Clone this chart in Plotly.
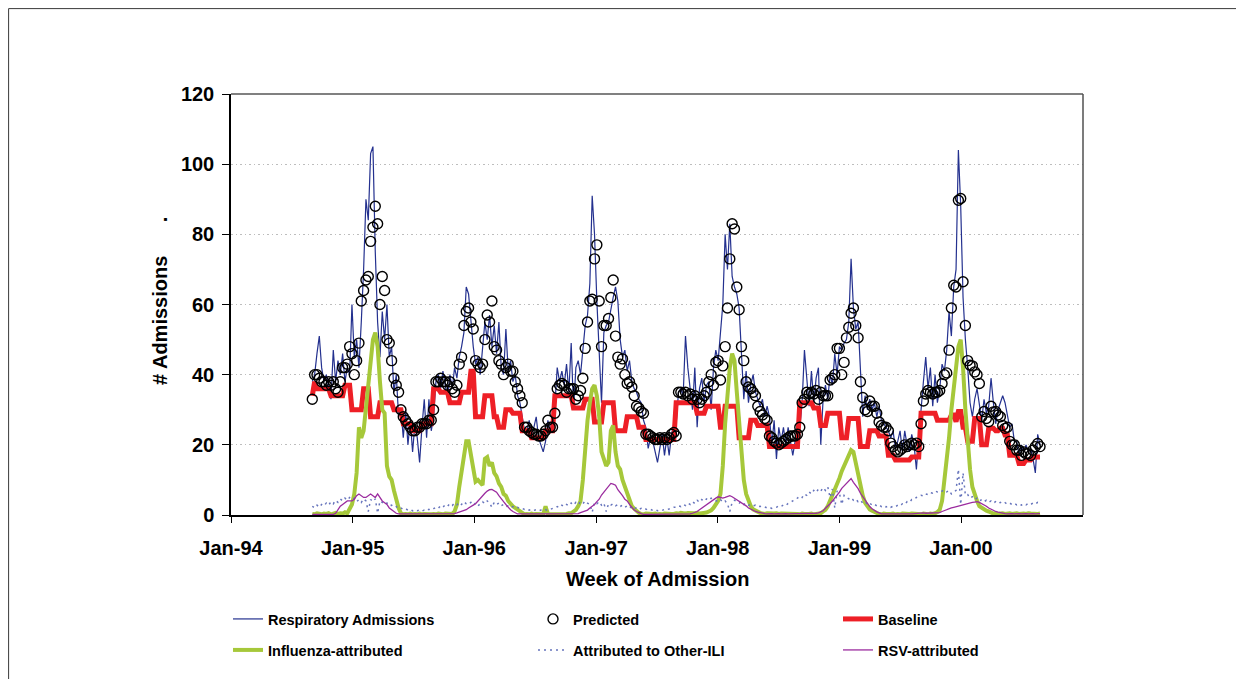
import pandas as pd
import plotly.graph_objects as go

# Weekly series, first week starting 1994-09-02 (two rows of values per season, Sep-Aug)
resp = [
    38, 40, 46, 51, 42, 38, 40, 36, 33, 47, 38, 44, 40, 46, 38, 42, 40, 60, 45, 50, 42, 55, 70, 90, 84, 103,
    105, 75, 55, 45, 58, 50, 60, 45, 48, 35, 40, 28, 30, 22, 30, 20, 27, 18, 26, 22, 15, 25, 33, 22, 33, 24,
    28, 38, 40, 36, 41, 37, 33, 40, 36, 42, 39, 45, 48, 52, 65, 63, 55, 48, 43, 45, 40, 48, 55, 50, 57, 48,
    54, 46, 55, 42, 40, 53, 41, 44, 38, 40, 34, 32, 28, 24, 24, 27, 23, 25, 28, 22, 20, 18, 21, 27, 24, 28,
    31, 42, 38, 41, 37, 43, 35, 49, 30, 42, 44, 40, 47, 54, 57, 66, 91, 80, 61, 47, 32, 52, 54, 55, 59, 62,
    65, 61, 50, 45, 47, 41, 44, 38, 36, 35, 33, 32, 27, 25, 19, 22, 21, 18, 15, 19, 23, 17, 22, 17, 23, 26,
    26, 35, 36, 34, 51, 42, 36, 30, 42, 25, 36, 39, 32, 37, 38, 30, 42, 47, 44, 52, 60, 80, 70, 83, 68, 65,
    63, 59, 45, 33, 41, 32, 37, 40, 35, 33, 31, 33, 28, 31, 28, 20, 27, 16, 25, 21, 25, 20, 25, 21, 17, 21,
    25, 25, 32, 47, 40, 31, 41, 32, 39, 42, 20, 33, 37, 33, 40, 37, 46, 40, 48, 47, 49, 50, 55, 73, 59, 53,
    55, 40, 28, 34, 30, 33, 30, 32, 28, 31, 27, 26, 25, 24, 22, 24, 19, 21, 24, 18, 24, 20, 18, 23, 20, 13,
    22, 31, 38, 45, 36, 42, 31, 40, 32, 36, 43, 41, 47, 58, 51, 65, 70, 104, 88, 62, 50, 42, 32, 28, 33, 36,
    32, 27, 33, 29, 31, 39, 32, 26, 30, 32, 34, 32, 28, 25, 26, 21, 21, 17, 20, 18, 20, 18, 19, 16, 12, 23, 20,
]

predicted = [
    33, 40, 40, 39, 38, 38, 37, 38, 37, 38, 36, 35, 38, 42, 42, 43, 48, 46, 40, 44, 49, 61, 64, 67, 68, 78,
    82, 88, 83, 60, 68, 64, 50, 49, 44, 39, 37, 35, 30, 28, 27, 26, 25, 24, 24, 25, 25, 26, 26, 26, 27, 27,
    30, 38, 38, 39, 38, 38, 37, 38, 36, 35, 37, 43, 45, 54, 58, 59, 55, 53, 44, 43, 42, 43, 50, 57, 55, 61,
    48, 47, 44, 43, 40, 42, 43, 41, 41, 38, 36, 34, 32, 25, 25, 24, 23.5, 23, 23, 22.5, 22.5, 23, 24, 27, 25, 25,
    29, 36, 37, 37.5, 37, 35, 36, 36, 36, 33, 34, 35.5, 39, 47.5, 55, 61, 61.5, 73, 77, 61, 48, 54, 54, 56, 62, 67,
    51, 45, 43, 44.5, 40, 37.5, 38, 36.5, 34, 31, 30.5, 29.5, 29, 23, 23, 22.5, 22, 21.5, 21.5, 22, 21.5, 22, 21.5, 22, 23, 23.5,
    22.5, 35, 35, 34.5, 35, 34, 34.5, 33, 34, 33, 32, 33, 34, 35, 38, 40, 37, 43.5, 44, 38.5, 42.5, 48, 59, 73, 83, 81.5,
    65, 58.5, 48, 44, 38, 36.5, 36, 35, 34, 31, 29.5, 28.5, 27.5, 27, 22.5, 22, 21, 20.5, 20, 20.5, 21, 21.5, 22, 22.5, 22.5, 22.5,
    23, 25, 32, 33, 35, 34.5, 35, 34.5, 35.5, 33, 35, 34, 34, 34, 38.5, 39, 40, 47.5, 47.5, 40, 43.5, 50.5, 53.5, 57.5, 59, 54,
    50.5, 38, 33.5, 30, 29.5, 32.5, 31, 31, 29, 26.5, 25.5, 25, 25, 24, 20.5, 19.5, 18.5, 18, 18.5, 19, 20, 19.5, 20, 20.5, 20, 20.5,
    19.5, 26, 32.5, 34.5, 35.5, 35, 34.5, 35, 35, 35.5, 37.5, 40, 40.5, 47, 59, 65.5, 65, 89.7, 90.2, 66.5, 54, 44, 42.7, 42.5, 40.8, 40,
    37.5, 28, 29.5, 27.5, 26.6, 31, 29.4, 29.5, 28.5, 28, 25.5, 24.7, 25, 21, 20, 20, 18.5, 18.5, 17, 18, 17.5, 17.5, 17, 18.5, 19.5, 20.4, 19.5,
]

baseline = [
    34, 38, 36, 36, 36, 36, 36, 36, 34, 34, 34, 34, 34, 34, 37, 37, 37, 30, 30, 30, 30, 30, 36, 36, 36, 28,
    28, 28, 28, 32, 32, 32, 32, 32, 32, 30, 30, 30, 30, 26, 26, 26, 26, 24, 24, 24, 24, 26, 26, 26, 26, 26,
    36, 36, 36, 35, 35, 35, 35, 32, 32, 32, 32, 32, 35, 35, 35, 35, 41, 41, 28, 28, 28, 28, 34, 34, 34, 34,
    28, 28, 25, 25, 25, 30, 30, 30, 29, 29, 29, 29, 24, 24, 24, 24, 22, 22, 22, 22, 22, 22, 24, 24, 24, 24,
    34, 34, 34, 34, 34, 34, 34, 34, 30.5, 30.5, 30.5, 30.5, 30.5, 33, 33, 33, 33, 26.5, 26.5, 26.5, 26.5, 32, 32, 32, 32, 32,
    24, 24, 24, 24, 24, 28, 28, 28, 28, 28, 25, 25, 25, 21.5, 21.5, 21.5, 21.5, 21.5, 21.5, 21.5, 21.5, 21.5, 21.5, 21.5, 21.5, 21.5,
    32, 32, 32, 32, 32, 32, 32, 32, 32, 29, 29, 29, 29, 31, 31, 31, 31, 31, 31, 25, 25, 31, 31, 31, 31, 31,
    31, 22, 22, 22, 22, 22, 27, 27, 27, 25.5, 25.5, 25.5, 25.5, 25.5, 19.5, 19.5, 19.5, 19.5, 19.5, 19.5, 19.5, 19.5, 19.5, 19.5, 19.5, 19.5,
    19.5, 32, 32, 32, 32, 32, 32, 30.5, 30.5, 30.5, 25.5, 25.5, 25.5, 29, 29, 29, 29, 29, 29, 22, 22, 22, 27.5, 27.5, 27.5, 27.5,
    27.5, 19.5, 19.5, 19.5, 19.5, 24, 24, 24, 24, 22.5, 22.5, 22.5, 22.5, 17, 17, 17, 15.7, 15.7, 15.7, 15.7, 15.7, 15.7, 15.7, 16.5, 16.5, 16.5,
    16.5, 29, 29, 29, 29, 29, 29, 29, 27, 27, 27, 27, 27, 27, 28.5, 28.5, 26.6, 29.5, 29.5, 25, 25, 21, 21, 21, 27.5, 27.5,
    27.5, 20, 20, 20, 24.7, 24.7, 24.7, 24, 24, 24.7, 24.7, 22.8, 22.8, 17, 17, 17, 17, 14.7, 14.7, 14.7, 15.7, 15.7, 15.7, 16.5, 16.5, 16.5, 16.5,
]

influenza = [
    0.3, 0.2, 0.5, 0.3, 0.2, 0.4, 0.3, 0.5, 0.2, 0.4, 0.6, 0.3, 0.5, 0.4, 0.8, 0.5, 2, 3, 6, 12, 25, 22, 24, 30, 36, 42,
    50, 52, 48, 38, 30, 29, 14, 11, 10, 7, 4, 2, 0.5, 0.2, 0.3, 0.2, 0.4, 0.2, 0.3, 0.2, 0.4, 0.2, 0.3, 0.2, 0.3, 0.2,
    0.3, 0.2, 0.4, 0.3, 0.2, 0.4, 0.3, 0.2, 0.3, 1, 3, 8, 13, 18, 21, 21, 17, 12, 9.5, 10, 9, 8.5, 16, 16.5,
    14, 15, 12, 11, 9, 8, 6, 5.5, 4, 3, 2.5, 2, 1.5, 1, 0.5, 0.2, 0.3, 0.2, 0.4, 0.2, 0.3, 0.2, 0.3, 0.2, 2.5, 0.3, 0.2, 0.2,
    0.3, 0.2, 0.4, 0.3, 0.2, 0.3, 0.5, 0.5, 1, 1.5, 2.5, 4, 10, 19, 27, 32, 36, 37, 34, 28, 18, 16, 14, 15, 24, 25.5,
    18, 14, 13, 10, 8, 6, 3.8, 2.5, 1.8, 1, 0.6, 0.3, 0.2, 0.4, 0.3, 0.2, 0.3, 0.4, 0.2, 0.3, 0.2, 0.4, 0.3, 0.2, 0.3, 0.3,
    0.5, 0.4, 0.6, 0.5, 0.4, 0.6, 0.5, 0.4, 0.5, 0.6, 0.4, 0.5, 0.5, 0.7, 1, 1.3, 2, 2.8, 4, 6, 14, 26, 35, 42, 46, 44,
    35, 26, 17, 10, 6, 4, 2.5, 1.6, 1.2, 0.9, 0.6, 0.4, 0.3, 0.5, 0.4, 0.3, 0.4, 0.5, 0.3, 0.4, 0.4, 0.3, 0.5, 0.4, 0.3, 0.4,
    0.3, 0.2, 0.4, 0.3, 0.2, 0.3, 0.4, 0.2, 0.3, 0.3, 0.5, 1, 1.5, 2.5, 4, 5.5, 7, 8.5, 10.5, 12.5, 14, 16, 17.5, 18.5, 18, 14.5,
    11, 7.5, 5.5, 3.5, 2.5, 1.6, 1.2, 0.8, 0.5, 0.3, 0.2, 0.4, 0.3, 0.2, 0.3, 0.4, 0.2, 0.3, 0.2, 0.4, 0.3, 0.2, 0.3, 0.4, 0.3, 0.3,
    0.3, 0.2, 0.4, 0.3, 0.2, 0.4, 0.3, 0.5, 0.8, 1.5, 4, 10, 15, 22, 30, 37, 42, 48, 50, 42, 30, 20, 13, 8, 5.5, 4,
    2.5, 2, 1.5, 1.2, 1, 0.8, 0.4, 0.5, 0.3, 0.4, 0.5, 0.3, 0.4, 0.5, 0.3, 0.4, 0.5, 0.3, 0.4, 0.4, 0.3, 0.5, 0.4, 0.3, 0.4, 0.3, 0.4,
]

other_ili = [
    2.5, 2.0, 2.8, 2.2, 3.0, 2.6, 3.4, 2.8, 3.8, 3.2, 4.2, 3.6, 4.6, 4.0, 4.8, 4.2, 5.0, 4.4, 4.8, 3.8, 4.4, 3.6, 4.6, 4.0, 1.0, 4.4,
    3.8, 4.6, 0.5, 4.0, 3.6, 3.0, 3.4, 2.6, 2.8, 2.2, 2.4, 1.8, 2.0, 1.6, 1.8, 1.4, 1.6, 1.2, 1.5, 1.2, 1.4, 1.1, 1.4, 1.2, 1.6, 1.4,
    1.8, 2.2, 1.9, 2.6, 2.2, 2.9, 2.5, 3.2, 2.7, 3.4, 2.9, 3.6, 3.0, 3.8, 3.2, 3.0, 3.6, 2.8, 3.4, 2.6, 3.2, 3.8, 3.2, 4.0, 3.4, 2.2,
    3.6, 3.0, 3.4, 2.6, 3.0, 2.4, 2.6, 2.2, 2.4, 2.0, 2.2, 1.8, 1.9, 1.6, 1.7, 1.4, 1.6, 1.3, 1.5, 1.2, 1.4, 1.2, 1.5, 1.3, 1.6, 1.8,
    2.0, 2.4, 2.1, 2.8, 2.4, 3.0, 2.6, 3.4, 2.8, 3.6, 3.0, 3.8, 3.2, 4.0, 3.4, 3.0, 0.8, 3.6, 3.2, 3.8, 2.8, 3.4, 1.0, 3.2, 2.8, 3.2,
    2.6, 3.0, 2.4, 2.8, 2.2, 2.6, 2.0, 2.4, 1.8, 2.1, 1.6, 1.9, 1.5, 1.7, 1.4, 1.6, 1.3, 1.5, 1.2, 1.4, 1.3, 1.6, 1.5, 1.8, 2.0, 2.2,
    2.2, 2.6, 2.4, 3.0, 2.7, 3.4, 3.0, 3.8, 3.3, 4.2, 3.6, 4.4, 3.9, 4.6, 4.2, 4.8, 4.4, 4.2, 3.8, 4.4, 3.6, 4.0, 3.2, 1.0, 3.6, 4.2,
    3.8, 3.4, 3.8, 3.0, 3.4, 2.8, 3.0, 2.6, 2.8, 2.4, 2.5, 2.2, 2.3, 2.0, 2.2, 1.9, 2.1, 2.2, 2.6, 2.4, 2.9, 2.7, 3.3, 3.6, 4.0, 4.6,
    4.8, 5.4, 5.0, 6.0, 5.6, 6.6, 6.0, 7.0, 6.4, 7.4, 6.8, 7.8, 7.0, 8.0, 5.0, 7.4, 2.0, 6.8, 6.2, 3.0, 5.6, 5.0, 4.6, 5.0, 4.2, 4.6,
    3.8, 4.2, 3.4, 3.8, 3.0, 3.4, 2.8, 3.1, 2.6, 2.9, 2.4, 2.7, 2.3, 2.6, 2.2, 2.5, 2.3, 2.8, 2.6, 3.2, 3.0, 3.8, 3.6, 4.4, 4.4, 5.0,
    5.2, 5.6, 5.4, 6.0, 5.8, 6.4, 6.2, 6.8, 6.6, 7.0, 6.8, 7.2, 6.6, 7.0, 6.0, 6.6, 7.0, 13.0, 3.0, 12.0, 5.6, 5.8, 4.8, 5.2, 4.4, 4.8,
    4.0, 4.4, 3.8, 4.2, 3.6, 4.0, 3.4, 3.8, 3.3, 3.6, 3.2, 3.5, 3.1, 3.4, 3.0, 3.3, 2.9, 3.2, 2.8, 3.2, 2.9, 3.3, 3.0, 3.4, 3.1, 3.6, 3.4,
]

rsv = [
    0.2, 0.2, 0.3, 0.2, 0.2, 0.3, 0.2, 0.2, 0.3, 0.2, 0.5, 1.5, 2.5, 3, 3.5, 4, 4, 4, 4.5, 5.5, 6, 5.5, 5, 5, 5.5, 6,
    5.5, 5, 6, 5, 4, 3.5, 3, 2, 1.5, 1, 0.5, 0.3, 0.3, 0.2, 0.3, 0.3, 0.2, 0.3, 0.3, 0.2, 0.3, 0.3, 0.2, 0.3, 0.3, 0.3,
    0.2, 0.2, 0.3, 0.2, 0.2, 0.3, 0.2, 0.2, 0.2, 0.4, 0.6, 0.8, 1, 1.2, 1.5, 2, 2.5, 2.8, 3.2, 4, 4.5, 5.5, 6.2, 6.8,
    7.2, 7.3, 7, 6.5, 5.5, 4.5, 3.8, 3, 2.2, 1.5, 1, 0.6, 0.3, 0.3, 0.2, 0.3, 0.3, 0.2, 0.3, 0.3, 0.2, 0.3, 0.3, 0.2, 0.3, 0.3, 0.3, 0.2,
    0.2, 0.2, 0.3, 0.2, 0.2, 0.3, 0.2, 0.2, 0.3, 0.2, 0.4, 0.7, 1, 1.2, 1.4, 2, 2.4, 3, 3.8, 4.5, 5.7, 6.5, 7.6, 8.4, 9, 8.8,
    8.5, 7.2, 6.5, 5.5, 4.5, 4, 3, 2.2, 1.4, 1, 0.6, 0.4, 0.2, 0.2, 0.3, 0.2, 0.2, 0.3, 0.2, 0.2, 0.3, 0.2, 0.2, 0.3, 0.2, 0.2,
    0.3, 0.3, 0.4, 0.3, 0.3, 0.4, 0.3, 0.5, 0.7, 1, 1.5, 2, 2.5, 3, 3.5, 4, 4.3, 4.8, 5.2, 5, 4.8, 5, 5.3, 5.5, 5.2, 4.8,
    4.3, 4, 3.6, 3.2, 2.6, 2, 1.6, 1.3, 1, 0.8, 0.6, 0.4, 0.4, 0.3, 0.4, 0.4, 0.3, 0.4, 0.4, 0.3, 0.4, 0.4, 0.3, 0.4, 0.4, 0.4,
    0.4, 0.4, 0.3, 0.4, 0.4, 0.3, 0.4, 0.4, 0.5, 0.6, 0.8, 1.2, 1.9, 2.5, 3.2, 4, 4.8, 5.7, 6.5, 7.6, 8.3, 9, 10, 10.4, 9.3, 8.5,
    7.5, 6.2, 5.2, 4.2, 3.2, 2.4, 1.8, 1.3, 0.9, 0.6, 0.3, 0.3, 0.4, 0.3, 0.3, 0.4, 0.3, 0.3, 0.4, 0.3, 0.3, 0.4, 0.3, 0.3, 0.4, 0.3,
    0.5, 0.5, 0.6, 0.5, 0.5, 0.6, 0.5, 0.5, 0.5, 0.7, 1, 1.3, 1.6, 1.9, 2, 2.2, 2.4, 2.5, 2.8, 2.9, 3.1, 3.3, 3.5, 3.6, 3.7, 3.8,
    3.6, 3.3, 3, 2.5, 2, 1.6, 1.3, 1, 0.8, 0.6, 0.4, 0.4, 0.3, 0.4, 0.4, 0.3, 0.4, 0.4, 0.3, 0.4, 0.4, 0.3, 0.4, 0.4, 0.3, 0.4, 0.4,
]

tick_dates = ["1994-01-01", "1995-01-01", "1996-01-01", "1997-01-01", "1998-01-01", "1999-01-01", "2000-01-01"]
tick_labels = ["Jan-94", "Jan-95", "Jan-96", "Jan-97", "Jan-98", "Jan-99", "Jan-00"]
y_ticks = [0, 20, 40, 60, 80, 100, 120]

n = len(resp)
weeks = pd.date_range("1994-09-02", periods=n, freq="7D")

FONT = "Liberation Sans, Arial, sans-serif"

fig = go.Figure()
fig.add_trace(go.Scatter(x=weeks, y=resp, mode="lines", name="Respiratory Admissions",
                         line=dict(color="#24318F", width=1.2), legend="legend", legendrank=1))
fig.add_trace(go.Scatter(x=weeks, y=baseline, mode="lines", name="Baseline",
                         line=dict(color="#EE1F26", width=5), legend="legend", legendrank=3))
fig.add_trace(go.Scatter(x=weeks, y=influenza, mode="lines", name="Influenza-attributed",
                         line=dict(color="#A6C83A", width=4), legend="legend2", legendrank=1))
fig.add_trace(go.Scatter(x=weeks, y=other_ili, mode="lines", name="Attributed to Other-ILI",
                         line=dict(color="#6674BC", width=1.5, dash="2px,4px"), legend="legend2", legendrank=2))
fig.add_trace(go.Scatter(x=weeks, y=rsv, mode="lines", name="RSV-attributed",
                         line=dict(color="#9B2C9F", width=1.3), legend="legend2", legendrank=3))
fig.add_trace(go.Scatter(x=weeks, y=predicted, mode="markers", name="Predicted",
                         marker=dict(symbol="circle-open", size=10, color="black", line=dict(width=1.4)),
                         legend="legend", legendrank=2))

# The page body adds 8px on every side; size the figure so the page does not overflow the window.
OFF = 8
FIG_W, FIG_H = 1244 - 2 * OFF, 687 - 2 * OFF
PL, PR, PT, PB = 231, 1083, 94, 515      # plot area in window pixels
PW, PH = PR - PL, PB - PT
M_L, M_T = PL - OFF, PT - OFF
M_R = FIG_W - M_L - PW
M_B = FIG_H - M_T - PH


def px(xs):
    return (xs - PL) / PW


def py(ys):
    return (PB - ys) / PH


legend_common = dict(orientation="h", entrywidth=260, entrywidthmode="pixels",
                     font=dict(family=FONT, size=14.5, color="black", weight="bold"),
                     bgcolor="rgba(0,0,0,0)", xanchor="left", yanchor="middle",
                     traceorder="normal", itemwidth=30)

fig.update_layout(
    width=FIG_W, height=FIG_H,
    margin=dict(l=M_L, r=M_R, t=M_T, b=M_B),
    paper_bgcolor="white", plot_bgcolor="white",
    font=dict(family=FONT, color="black"),
    showlegend=True,
    legend=dict(x=px(228), y=py(619), **legend_common),
    legend2=dict(x=px(228), y=py(650), **legend_common),
    xaxis=dict(
        type="date", range=["1994-01-01", "2001-01-01"],
        tickvals=tick_dates, ticktext=tick_labels,
        tickfont=dict(family=FONT, size=20, color="black", weight="bold"),
        ticks="outside", ticklen=6, tickwidth=1.2, tickcolor="black",
        ticklabelstandoff=8,
        showline=True, linecolor="black", linewidth=1.5,
        showgrid=False, zeroline=False,
    ),
    yaxis=dict(
        range=[0, 120], tickvals=y_ticks,
        tickfont=dict(family=FONT, size=20, color="black", weight="bold"),
        ticks="outside", ticklen=7, tickwidth=1.2, tickcolor="black",
        ticklabelstandoff=4,
        showline=True, linecolor="black", linewidth=1.5,
        showgrid=True, gridcolor="#BDBDBD", griddash="1.5px,3px", gridwidth=1,
        zeroline=False,
    ),
    annotations=[
        dict(text="Week of Admission", x=0.5, y=py(579), xref="paper", yref="paper",
             xanchor="center", yanchor="middle", showarrow=False,
             font=dict(family=FONT, size=20, color="black", weight="bold")),
        dict(text="# Admissions\u00a0\u00a0\u00a0\u00a0\u00a0\u00a0.", x=px(160), y=py(301),
             xref="paper", yref="paper", xanchor="center", yanchor="middle", textangle=-90,
             showarrow=False, font=dict(family=FONT, size=20, color="black", weight="bold")),
    ],
    shapes=[
        dict(type="line", xref="paper", yref="paper", x0=0, x1=1, y0=1, y1=1,
             line=dict(color="#808080", width=2)),
        dict(type="line", xref="paper", yref="paper", x0=1, x1=1, y0=0, y1=1,
             line=dict(color="#505050", width=1.5)),
        # outer chart border: only its top and left edges fall inside the picture
        dict(type="line", xref="paper", yref="paper", x0=px(8.6), x1=px(1250), y0=py(8.6), y1=py(8.6),
             line=dict(color="#3A3A3A", width=1), layer="below"),
        dict(type="line", xref="paper", yref="paper", x0=px(8.6), x1=px(8.6), y0=py(8.6), y1=py(690),
             line=dict(color="#3A3A3A", width=1), layer="below"),
    ],
)

fig.write_html("out.html")
